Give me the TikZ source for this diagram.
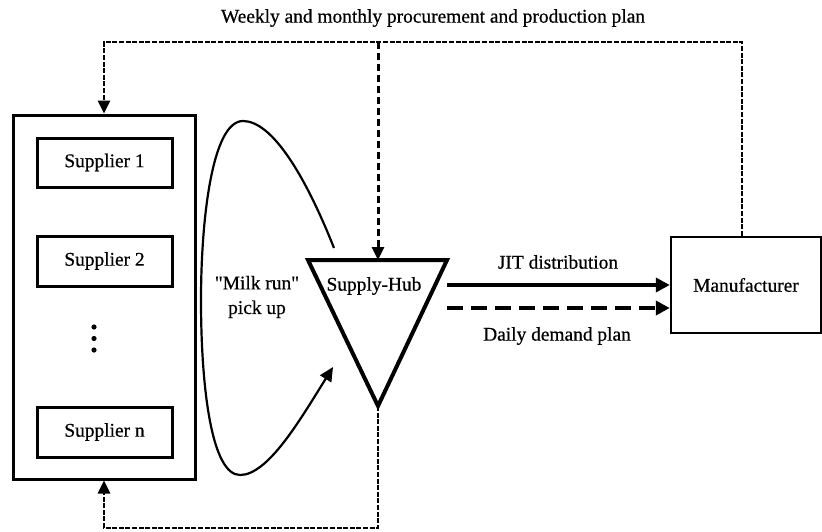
\documentclass[tikz,border=0pt]{standalone}
\usepackage{fontspec}
\setmainfont{Liberation Serif}[Ligatures=TeXOff]
\newfontfamily\labelfont{Liberation Serif}[Ligatures=TeXOff,FakeBold=0.6]
\usetikzlibrary{arrows.meta,calc}
\begin{document}
\begin{tikzpicture}[x=0.5pt,y=-0.5pt,
  every node/.style={font=\labelfont\fontsize{9.7}{12.3}\selectfont},
  box/.style={draw,line width=1.5pt,rectangle,inner sep=0pt},
  plan/.style={line width=1.3pt,dash pattern=on 2.5pt off 0.8pt},
  hubline/.style={line width=1.5pt,dash pattern=on 3.5pt off 2pt},
  tip/.style={-{Triangle[length=6.5pt,width=6pt]}},
  flow/.style={line width=2pt,-{Triangle[length=7pt,width=7pt]}},
  demand/.style={line width=2pt,dash pattern=on 8pt off 4pt,-{Triangle[length=7pt,width=7pt]}},
  run/.style={line width=1.1pt},
  lbl/.style={inner sep=0pt}]
\useasboundingbox (0,0) rectangle (822,531);

% supplier group and its members
\node[box,minimum width=91pt,minimum height=182pt] (group) at (104,297) {};
\node[box,minimum width=67.5pt,minimum height=24.5pt] (s1) at (104.5,162.5) {Supplier 1};
\node[box,minimum width=67.5pt,minimum height=25pt] (s2) at (104.5,261) {Supplier 2};
\node[box,minimum width=67.5pt,minimum height=25pt] (sn) at (104.5,432) {Supplier n};
\foreach \yy in {327,338.5,350} \fill (94,\yy) circle (1.3pt);

% manufacturer
\node[box,line width=1.2pt,minimum width=75pt,minimum height=48pt] (mfr) at (746,285) {Manufacturer};

% supply hub (inverted triangle)
\coordinate (hubTL) at (308,260);
\coordinate (hubTR) at (447,260);
\coordinate (hubB) at (378,406);
\coordinate (hubT) at (378,260);
\draw[line width=2pt,line join=miter] (hubTL) -- (hubTR) -- (hubB) -- cycle;
\node[lbl] (hub) at (374,286) {Supply-Hub};

% planning information flows
\coordinate (topL) at (104,42);
\coordinate (topM) at (378,42);
\coordinate (topR) at (742,42);
\coordinate (botR) at (378,528);
\coordinate (botL) at (104,528);
\draw[plan,tip] (mfr.north -| topR) -- (topR) -- (topL) -- (group.north);
\draw[hubline,tip] (topM) -- (hubT);
\draw[plan,tip] (hubB) -- (botR) -- (botL) -- (group.south);
\node[lbl] (title) at (433,18) {Weekly and monthly procurement and production plan};

% hub to manufacturer
\coordinate (jitS) at (447,285);
\coordinate (demS) at (447,308);
\draw[flow] (jitS) -- (mfr.west);
\draw[demand] (demS) -- (mfr.west |- demS);
\node[lbl] (jit) at (558,262) {JIT distribution};
\node[lbl] (daily) at (557,336) {Daily demand plan};

% milk run loop
\coordinate (runS) at (334,248);
\coordinate (runE) at (333,367);
\draw[run,-{Triangle[length=7pt,width=6.5pt]}] (runS)
  .. controls (305,175) and (272,121) .. (243,121)
  .. controls (212,121) and (201,220) .. (201,300)
  .. controls (201,390) and (212,475) .. (240,475)
  .. controls (268,475) and (300,420) .. (runE);
\node[lbl,align=center] (milk) at (257,297) {"Milk run"\\pick up};
\end{tikzpicture}
\end{document}
